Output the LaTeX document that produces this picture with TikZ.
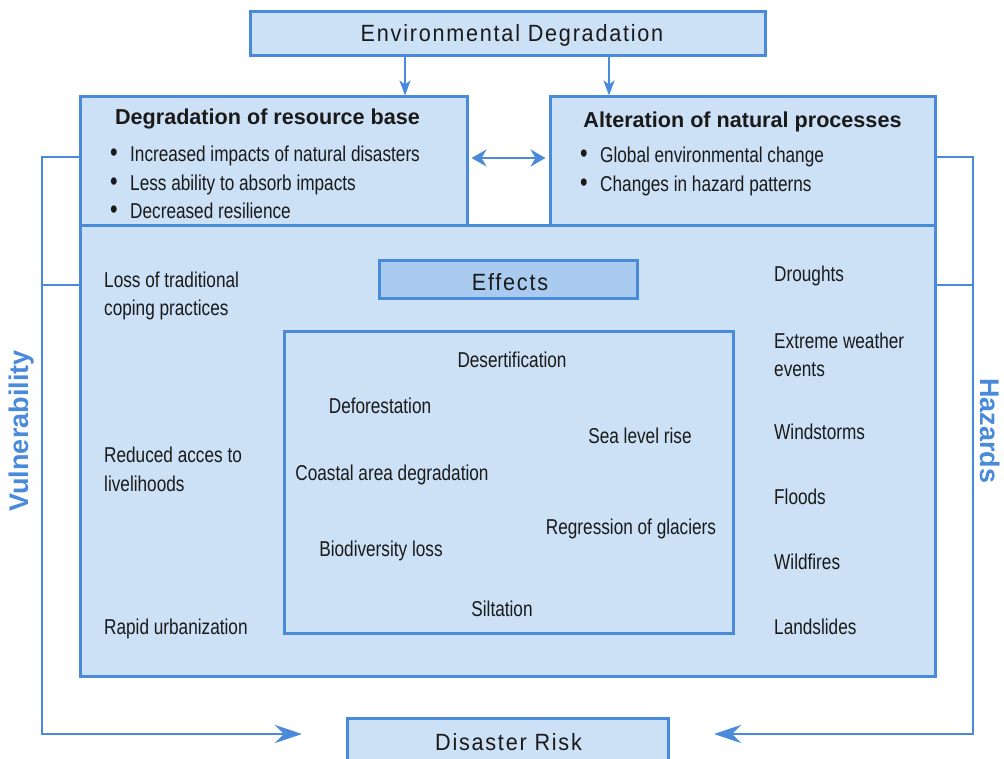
\documentclass[tikz,border=0pt]{standalone}
\usepackage{fontspec}
\setmainfont{Liberation Sans}
\newfontfamily\spacedfont[LetterSpace=7.5,FakeStretch=0.92]{Liberation Sans}
\newfontfamily\condfont[FakeStretch=0.8]{Liberation Sans}
\usetikzlibrary{arrows.meta}
\definecolor{bfill}{HTML}{CCE0F6}
\definecolor{bline}{HTML}{4A8ADB}
\definecolor{efill}{HTML}{A9CBEF}
\definecolor{txt}{HTML}{1A1A1A}
\newcommand{\bigbul}{\makebox[20pt][l]{\raisebox{0pt}{\fontsize{27}{27}\selectfont•}}}
\begin{document}
\begin{tikzpicture}[x=1pt,y=-1pt,
  box/.style={draw=bline, line width=3pt, fill=bfill, inner sep=0pt},
  ebox/.style={box, fill=efill},
  plain/.style={font=\condfont\fontsize{21.5}{28.5}\selectfont, text=txt, inner sep=0pt, text height=15.5pt, text depth=4.5pt, yshift=-2pt},
  multi/.style={font=\condfont\fontsize{21.5}{28.5}\selectfont, text=txt, inner sep=0pt, align=left, anchor=west, yshift=-2pt},
  ttl/.style={font=\bfseries\fontsize{21.6}{25}\selectfont, text=txt, inner sep=0pt, yshift=-1pt},
  sp/.style={font=\spacedfont\fontsize{23.5}{26}\selectfont, text=txt, inner sep=0pt, yshift=-1pt},
  side/.style={font=\bfseries\fontsize{27}{30}\selectfont, text=bline, inner sep=0pt},
  conn/.style={draw=bline, line width=2.8pt},
  arrs/.style={conn, -{Stealth[length=15pt,width=11pt,inset=4pt]}},
  arrd/.style={conn, {Stealth[length=15pt,width=17pt,inset=5pt]}-{Stealth[length=15pt,width=17pt,inset=5pt]}},
  arrb/.style={conn, -{Stealth[length=27pt,width=18pt,inset=9pt]}}
]
\useasboundingbox (0,0) rectangle (1004,759);
\fill[white] (0,0) rectangle (1004,759);

% boxes
\node[box, minimum width=515pt, minimum height=44pt] (env) at (507.5,34) {};
\node[sp] (envt) at (512,34) {Environmental Degradation};
\node[box, minimum width=855pt, minimum height=450pt] (big) at (507.5,451) {};
\node[box, minimum width=387pt, minimum height=129pt] (lb) at (273.5,161.5) {};
\node[box, minimum width=385pt, minimum height=129pt] (rb) at (742.5,161.5) {};
\node[ebox, minimum width=258pt, minimum height=38pt] (eff) at (508,280) {};
\node[sp] (efft) at (510,281) {Effects};
\node[box, minimum width=449pt, minimum height=301pt] (inner) at (508.5,482.5) {};
\node[box, minimum width=321pt, minimum height=62pt] (dr) at (507.5,749) {};
\node[sp] (drt) at (508.5,741) {Disaster Risk};

% top arrows
\coordinate (a1) at (405,0);
\coordinate (a2) at (609,0);
\draw[arrs] (env.south -| a1) -- (lb.north -| a1);
\draw[arrs] (env.south -| a2) -- (rb.north -| a2);
\coordinate (dy) at (0,158);
\draw[arrd] ([xshift=3pt]lb.east |- dy) -- ([xshift=-3pt]rb.west |- dy);

% brackets
\coordinate (lx) at (42,0);
\coordinate (rx) at (973,0);
\coordinate (y1) at (0,157);
\coordinate (y2) at (0,285);
\coordinate (y3) at (0,734);
\coordinate (lt) at (302,0);
\coordinate (rt) at (714,0);
\draw[conn] (big.west |- y2) -- (lx |- y2);
\draw[conn] (big.east |- y2) -- (rx |- y2);
\draw[arrb] (lb.west |- y1) -- (lx |- y1) -- (lx |- y3) -- (lt |- y3);
\draw[arrb] (rb.east |- y1) -- (rx |- y1) -- (rx |- y3) -- (rt |- y3);

\node[side, rotate=90] (vul) at (22,431) {Vulnerability};
\node[side, rotate=-90] (haz) at (990,431) {Hazards};

% titles and bullets
\node[ttl] (lbt) at (267.5,118) {Degradation of resource base};
\node[ttl] (rbt) at (742.5,121) {Alteration of natural processes};
\node[multi] (lbl) at (110,180.5) {\bigbul Increased impacts of natural disasters\\\bigbul Less ability to absorb impacts\\\bigbul Decreased resilience};
\node[multi] (rbl) at (580,169.5) {\bigbul Global environmental change\\\bigbul Changes in hazard patterns};

% left column
\node[multi] (l1) at (104,294) {Loss of traditional\\coping practices};
\node[multi] (l2) at (104,467.5) {Reduced acces to\\livelihoods};
\node[plain, anchor=west] (l3) at (104,627) {Rapid urbanization};

% right column
\node[plain, anchor=west] (r1) at (774,274) {Droughts};
\node[multi] (r2) at (774,353) {Extreme weather\\events};
\node[plain, anchor=west] (r3) at (774,432) {Windstorms};
\node[plain, anchor=west] (r4) at (774,497) {Floods};
\node[plain, anchor=west] (r5) at (774,562) {Wildfires};
\node[plain, anchor=west] (r6) at (774,627) {Landslides};

% inner
\node[plain] (i1) at (512,360) {Desertification};
\node[plain] (i2) at (380,406) {Deforestation};
\node[plain] (i3) at (640,436) {Sea level rise};
\node[plain] (i4) at (392,473) {Coastal area degradation};
\node[plain] (i5) at (631,527) {Regression of glaciers};
\node[plain] (i6) at (381,549) {Biodiversity loss};
\node[plain] (i7) at (502,609) {Siltation};
\end{tikzpicture}
\end{document}
